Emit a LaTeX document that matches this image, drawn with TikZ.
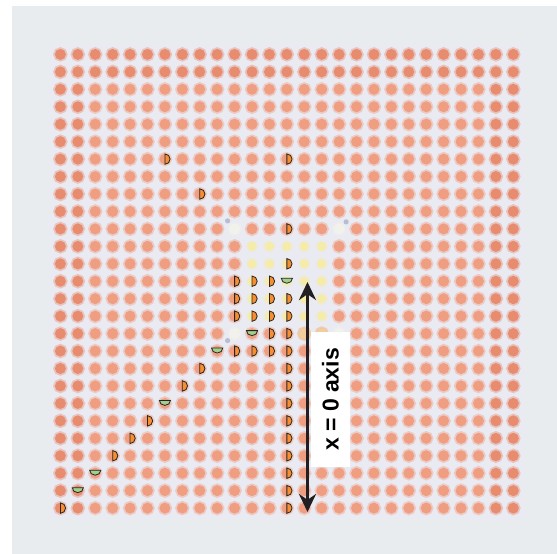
\documentclass[tikz,border=0pt]{standalone}
\usepackage{fontspec}
\newfontfamily\axisfont{Liberation Sans}
\usepackage{tikz}
\usetikzlibrary{positioning,arrows.meta,calc}
\definecolor{pagegrey}{RGB}{232,236,239}
\definecolor{gridbg}{RGB}{234,234,242}
\definecolor{dotmid}{RGB}{240,158,130}
\definecolor{dotdark}{RGB}{232,140,112}
\definecolor{dotyel}{RGB}{245,236,170}
\definecolor{dotwhite}{RGB}{242,242,236}
\definecolor{spotc}{RGB}{150,160,190}
\definecolor{markor}{RGB}{247,142,48}
\definecolor{markgr}{RGB}{160,208,140}
\definecolor{arrowc}{RGB}{35,31,32}

\begin{document}
\begin{tikzpicture}[
  x=1pt, y=-1pt,
  dot/.style={circle,inner sep=0pt,minimum size=11pt,line width=3.4pt,draw opacity=0.4},
  ydot/.style={dot,minimum size=9pt,line width=3pt,draw opacity=0.3},
  dmark/.style={draw=black!85,line width=0.8pt,fill=markor},
  gmark/.style={draw=black!85,line width=0.8pt,fill=markgr},
  spot/.style={fill=spotc,opacity=0.6},
  arrow/.style={{Stealth[length=18pt,width=17pt]}-{Stealth[length=18pt,width=17pt]},line width=3.3pt,draw=arrowc}
]
  \useasboundingbox (0,0) rectangle (557,554);
  \fill[white] (0,0) rectangle (557,554);
  \fill[pagegrey] (12,6) rectangle (557,554);
  \fill[gridbg] (50,44) rectangle (524,519);

  % lattice of sites
  \foreach \c in {0,...,26}{
    \foreach \r in {0,...,26}{
      \pgfmathtruncatemacro\isedge{(\c<2)||(\c>24)||(\r<2)}
      \pgfmathtruncatemacro\isyel{(\c>10)&&(\c<16)&&(\r>10)&&(\r<16)}
      \pgfmathtruncatemacro\iswht{((\c==10)||(\c==16))&&((\r==10)||(\r==16))}
      \def\ds{dot}
      \ifnum\iswht=1 \def\dc{dotwhite}\else
        \ifnum\isyel=1 \def\dc{dotyel}\def\ds{ydot}\else
          \ifnum\isedge=1 \def\dc{dotdark}\else \def\dc{dotmid}\fi
        \fi
      \fi
      \node[\ds,fill=\dc,draw=\dc] (d\c-\r) at ({60.4+17.42*\c},{54.4+17.45*\r}) {};
    }
  }
  \node[dot,fill=dotyel!60!dotmid,draw=dotyel!60!dotmid] (y14) at (d14-16) {};
  \node[dot,fill=dotyel!60!dotmid,draw=dotyel!60!dotmid] (y15) at (d15-16) {};

  % small grey spots beside the white sites
  \fill[spot] ($(d10-10)+(-7,-8)$) circle[radius=2.6];
  \fill[spot] ($(d16-10)+(7,-7)$) circle[radius=2.6];
  \fill[spot] ($(d10-16)+(-7,7)$) circle[radius=2.6];

  % half-disc markers
  \foreach \c/\r in {6/6,13/6,8/8,13/10,13/12,10/13,11/13,12/13,
      10/14,11/14,12/14,13/14,10/15,11/15,12/15,13/15,12/16,13/16,
      10/17,11/17,12/17,13/17,8/18,13/18,7/19,13/19,13/20,5/21,13/21,
      4/22,13/22,3/23,13/23,13/24,13/25,0/26,13/26}
    \draw[dmark] (d\c-\r.center) ++(0,-5.2) arc[start angle=-90,end angle=90,radius=5.2] -- cycle;
  \foreach \c/\r in {13/13,11/16,9/17,6/20,2/24,1/25}
    \draw[gmark] (d\c-\r.center) ++(-5.6,-3) arc[start angle=180,end angle=0,x radius=5.6,y radius=5] -- cycle;

  % axis arrow and label
  \coordinate (atop) at (307.5,282);
  \coordinate (abot) at (307.5,512);
  \draw[arrow] (atop) -- (abot);
  \node[fill=white,rotate=90,inner sep=0pt,minimum width=135.6pt,minimum height=39.3pt,
        font=\axisfont\bfseries\fontsize{23}{27}\selectfont] (lbl) at (330.4,399.5) {x = 0 axis};
\end{tikzpicture}
\end{document}
